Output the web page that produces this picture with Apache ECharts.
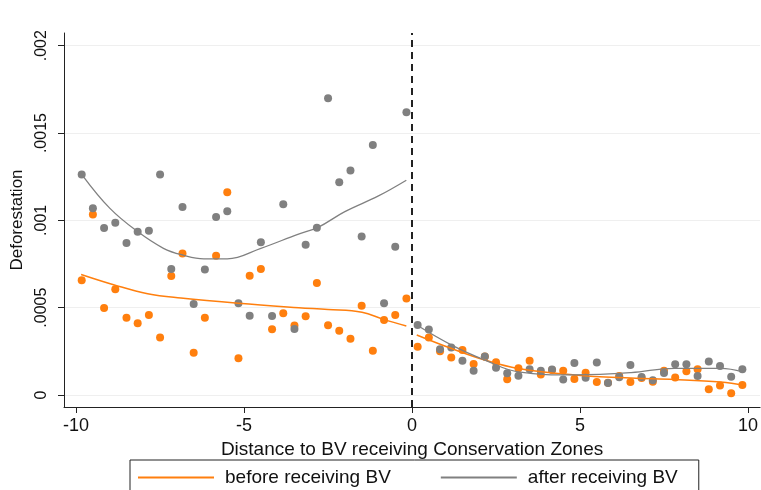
<!DOCTYPE html>
<html>
<head>
<meta charset="utf-8">
<script src="https://cdn.jsdelivr.net/npm/echarts@6/dist/echarts.min.js"></script>
<style>
html,body{margin:0;padding:0;background:#fff;}
#chart{width:761px;height:490px;}
</style>
</head>
<body>
<div id="chart"></div>
<script>
// Bin centres (distance, km)
const binsBefore = [-9.833,-9.5,-9.167,-8.833,-8.5,-8.167,-7.833,-7.5,-7.167,-6.833,-6.5,-6.167,-5.833,-5.5,-5.167,-4.833,-4.5,-4.167,-3.833,-3.5,-3.167,-2.833,-2.5,-2.167,-1.833,-1.5,-1.167,-0.833,-0.5,-0.167];
const binsAfter = [0.167,0.5,0.833,1.167,1.5,1.833,2.167,2.5,2.833,3.167,3.5,3.833,4.167,4.5,4.833,5.167,5.5,5.833,6.167,6.5,6.833,7.167,7.5,7.833,8.167,8.5,8.833,9.167,9.5,9.833];

// "before receiving BV" binned means
const beforeLeft = [0.000657,0.001033,0.000498,0.000605,0.000443,0.000411,0.000458,0.000330,0.000682,0.000811,0.000242,0.000443,0.000798,0.001161,0.000210,0.000683,0.000722,0.000376,0.000468,0.000398,0.000451,0.000641,0.000399,0.000368,0.000322,0.000511,0.000254,0.000430,0.000458,0.000552];
const beforeRight = [0.000277,0.000330,0.000250,0.000215,0.000258,0.000178,0.000220,0.000187,0.000090,0.000153,0.000196,0.000117,0.000143,0.000139,0.000092,0.000128,0.000074,0.000070,0.000109,0.000074,0.000097,0.000076,0.000139,0.000100,0.000136,0.000147,0.000033,0.000055,0.000010,0.000057];

// "after receiving BV" binned means
const afterLeft = [0.001262,0.001069,0.000956,0.000987,0.000871,0.000935,0.000941,0.001262,0.000722,0.001076,0.000521,0.000718,0.001019,0.001052,0.000525,0.000454,0.000875,0.000452,0.001092,0.000378,0.000861,0.000958,0.001699,0.001218,0.001285,0.000907,0.001432,0.000525,0.000849,0.001619];
const afterRight = [0.000401,0.000375,0.000262,0.000272,0.000196,0.000139,0.000220,0.000156,0.000124,0.000110,0.000147,0.000139,0.000146,0.000089,0.000183,0.000099,0.000186,0.000069,0.000101,0.000172,0.000103,0.000084,0.000126,0.000176,0.000176,0.000109,0.000192,0.000166,0.000105,0.000147];

// Fitted curves: [x, y]
const fitBeforeLeft = [[-9.85,0.00069],[-8.86,0.00063],[-7.87,0.00058],[-6.88,0.000555],[-5.17,0.000525],[-3.37,0.0005],[-2.5,0.00049],[-1.49,0.000474],[-0.85,0.000433],[-0.17,0.000395]];
const fitBeforeRight = [[0.14,0.000344],[1.18,0.000266],[2.17,0.0002],[3.16,0.000152],[4.84,0.000115],[6.52,0.000097],[7.81,0.000089],[9.19,0.000074],[9.9,0.000054]];
const fitAfterLeft = [[-9.8,0.001255],[-9,0.00107],[-8.2,0.00094],[-7.4,0.00084],[-6.8,0.0008],[-6.2,0.00078],[-5.5,0.00078],[-4.5,0.00084],[-3.4,0.00092],[-2.8,0.00096],[-2,0.00105],[-1,0.00114],[-0.17,0.00123]];
const fitAfterRight = [[0.14,0.000401],[1.18,0.000286],[2.17,0.0002],[3.16,0.000133],[4.84,0.000115],[6.52,0.000128],[7.81,0.000153],[9.19,0.000153],[9.85,0.000133]];

const xTicks = [-10,-5,0,5,10];
const yTicks = [0,0.0005,0.001,0.0015,0.002];
const yTickLabels = ['0','.0005','.001','.0015','.002'];
const cutoff = 0;
const legendNames = ['before receiving BV','after receiving BV'];

const ORANGE = '#ff7f0e';
const GRAY = '#808080';
const FONT = 'Liberation Sans, Arial, sans-serif';

function pairs(xs, ys){ return xs.map((x,i)=>[x, ys[i]]); }

const chart = echarts.init(document.getElementById('chart'), null, {renderer:'canvas'});
chart.setOption({
  animation:false,
  backgroundColor:'#ffffff',
  textStyle:{fontFamily:FONT},
  grid:{left:64, top:33, width:698, height:374, containLabel:false},
  xAxis:{
    type:'value', min:-10.36, max:10.36,
    axisLine:{show:true, onZero:false, lineStyle:{color:'#222', width:1}},
    axisTick:{show:true, length:6, customValues:xTicks, lineStyle:{color:'#222'}},
    axisLabel:{customValues:xTicks, fontSize:18, color:'#111', margin:10, fontFamily:FONT},
    splitLine:{show:false},
    name:'Distance to BV receiving Conservation Zones', nameLocation:'middle', nameGap:25,
    nameTextStyle:{fontSize:19, color:'#111', fontFamily:FONT}
  },
  yAxis:{
    type:'value', min:-0.0000687, max:0.002073,
    axisLine:{show:true, onZero:false, lineStyle:{color:'#222', width:1}},
    axisTick:{show:true, length:6, customValues:yTicks, lineStyle:{color:'#222'}},
    axisLabel:{customValues:yTicks, rotate:90, fontSize:16, color:'#111', margin:14, fontFamily:FONT,
      formatter:function(v){ const i = yTicks.findIndex(t=>Math.abs(t-v)<1e-9); return i>=0 ? yTickLabels[i] : ''; }},
    splitLine:{show:true, lineStyle:{color:'#efefef', width:1}},
    name:'Deforestation', nameLocation:'middle', nameGap:38, nameRotate:90,
    nameTextStyle:{fontSize:17, color:'#111', fontFamily:FONT}
  },
  legend:{
    show:true, left:130, top:460,
    data:legendNames.map(n=>({name:n, icon:'rect'})),
    itemWidth:76, itemHeight:2, itemGap:50,
    borderColor:'#222', borderWidth:1, padding:[8,21,20,8],
    textStyle:{fontSize:19, color:'#111', fontFamily:FONT, padding:[0,0,0,6]}
  },
  series:[
    {name:'before bins left', type:'scatter', data:pairs(binsBefore, beforeLeft), symbolSize:8, itemStyle:{color:ORANGE, opacity:1}, z:2},
    {name:'before bins right', type:'scatter', data:pairs(binsAfter, beforeRight), symbolSize:8, itemStyle:{color:ORANGE, opacity:1}, z:2},
    {name:'after bins left', type:'scatter', data:pairs(binsBefore, afterLeft), symbolSize:8, itemStyle:{color:GRAY, opacity:1}, z:3},
    {name:'after bins right', type:'scatter', data:pairs(binsAfter, afterRight), symbolSize:8, itemStyle:{color:GRAY, opacity:1}, z:3},
    {name:legendNames[0], type:'line', data:fitBeforeLeft, smooth:0.4, symbol:'none', lineStyle:{color:ORANGE, width:1.5}, itemStyle:{color:ORANGE}, z:4},
    {name:legendNames[0], type:'line', data:fitBeforeRight, smooth:0.4, symbol:'none', lineStyle:{color:ORANGE, width:1.5}, itemStyle:{color:ORANGE}, z:4},
    {name:legendNames[1], type:'line', data:fitAfterLeft, smooth:0.4, symbol:'none', lineStyle:{color:GRAY, width:1.3}, itemStyle:{color:GRAY}, z:5},
    {name:legendNames[1], type:'line', data:fitAfterRight, smooth:0.4, symbol:'none', lineStyle:{color:GRAY, width:1.3}, itemStyle:{color:GRAY}, z:5,
      markLine:{silent:true, symbol:['none','none'], label:{show:false},
        lineStyle:{color:'#222', type:[7,5], width:2},
        data:[{xAxis:cutoff}]}}
  ]
});
</script>
</body>
</html>
